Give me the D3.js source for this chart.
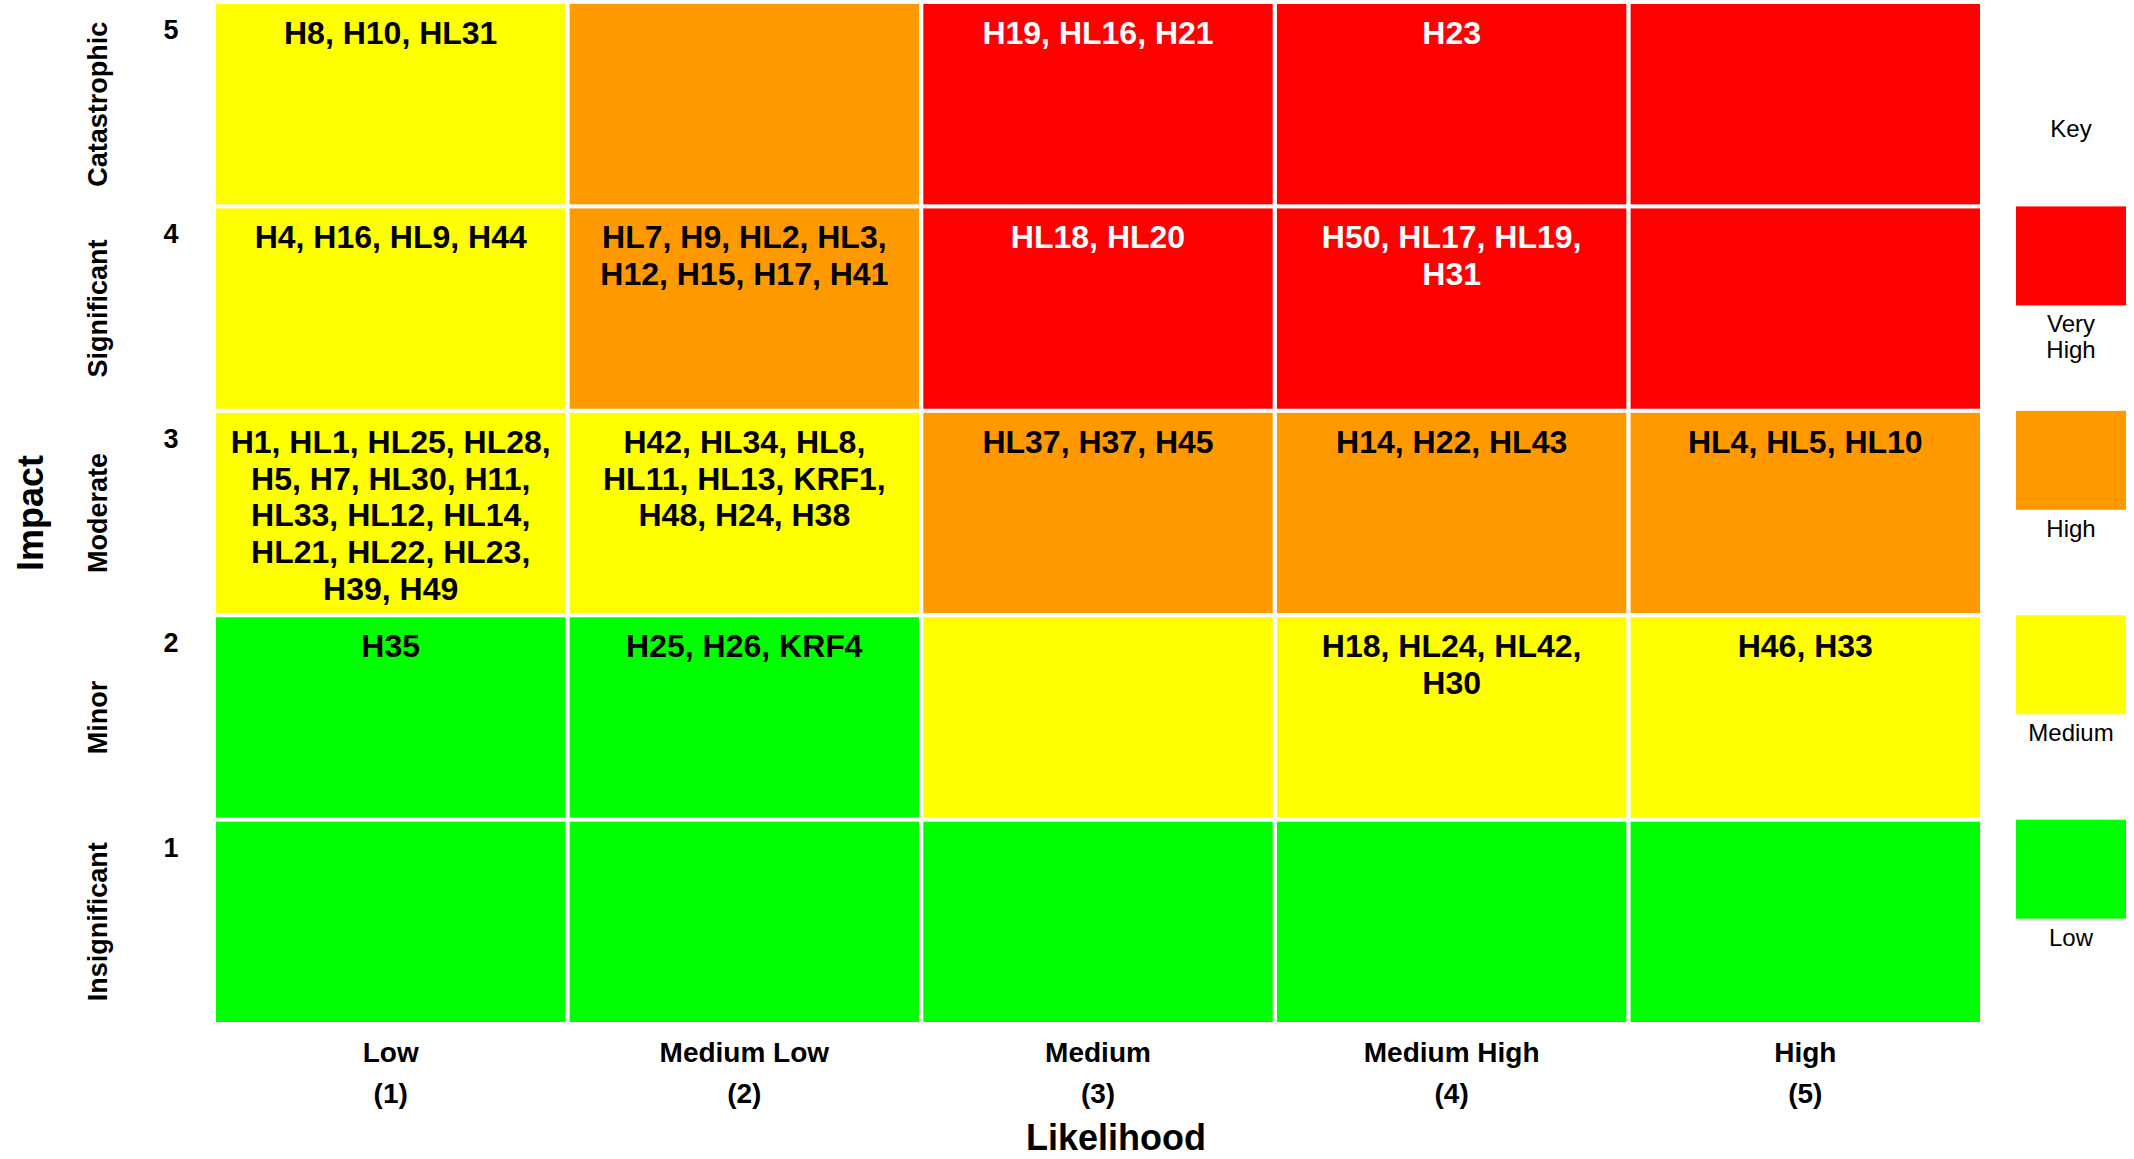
<!DOCTYPE html>
<html>
<head>
<meta charset="utf-8">
<script src="https://cdn.jsdelivr.net/npm/d3@7"></script>
<style>
  body { margin: 0; background: #fff; }
  text { font-family: "Liberation Sans", Arial, Helvetica, sans-serif; }
</style>
</head>
<body>
<div id="chart"></div>
<script>
// likelihood columns (1..5) and impact rows (5..1)
const likelihoodLevels = [1, 2, 3, 4, 5];
const likelihoodNames = ['Low', 'Medium Low', 'Medium', 'Medium High', 'High'];
const impactLevels = [5, 4, 3, 2, 1];
const impactNames = ['Catastrophic', 'Significant', 'Moderate', 'Minor', 'Insignificant'];

// risk rating per cell, rows = impact 5..1, cols = likelihood 1..5
const ratingRows = [
  ['Medium', 'High', 'Very High', 'Very High', 'Very High'],
  ['Medium', 'High', 'Very High', 'Very High', 'Very High'],
  ['Medium', 'Medium', 'High', 'High', 'High'],
  ['Low', 'Low', 'Medium', 'Medium', 'Medium'],
  ['Low', 'Low', 'Low', 'Low', 'Low']
];

// hazard ids per cell, lines split with |
const hazardRows = [
  ['H8, H10, HL31', '', 'H19, HL16, H21', 'H23', ''],
  ['H4, H16, HL9, H44', 'HL7, H9, HL2, HL3,|H12, H15, H17, H41', 'HL18, HL20', 'H50, HL17, HL19,|H31', ''],
  ['H1, HL1, HL25, HL28,|H5, H7, HL30, H11,|HL33, HL12, HL14,|HL21, HL22, HL23,|H39, H49',
   'H42, HL34, HL8,|HL11, HL13, KRF1,|H48, H24, H38', 'HL37, H37, H45', 'H14, H22, HL43', 'HL4, HL5, HL10'],
  ['H35', 'H25, H26, KRF4', '', 'H18, HL24, HL42,|H30', 'H46, H33'],
  ['', '', '', '', '']
];

const keyNames = ['Very High', 'High', 'Medium', 'Low'];
const keyColors = ['#ff0000', '#ff9900', '#ffff00', '#00ff00'];

const width = 2134, height = 1159;
const grid = {left: 216, right: 1980, top: 4, bottom: 1022};

const color = d3.scaleOrdinal().domain(keyNames).range(keyColors);

const x = d3.scaleBand()
  .domain(likelihoodLevels)
  .range([grid.left, grid.right])
  .paddingInner(0.012);

const y = d3.scaleBand()
  .domain(impactLevels)
  .range([grid.top, grid.bottom])
  .paddingInner(0.02);

const svg = d3.select('#chart').append('svg')
  .attr('width', width)
  .attr('height', height);

// flatten cells
const cells = [];
impactLevels.forEach((imp, r) => {
  likelihoodLevels.forEach((lik, c) => {
    cells.push({impact: imp, likelihood: lik, rating: ratingRows[r][c], text: hazardRows[r][c]});
  });
});

svg.append('g').selectAll('rect')
  .data(cells)
  .join('rect')
    .attr('x', d => x(d.likelihood))
    .attr('y', d => y(d.impact))
    .attr('width', x.bandwidth())
    .attr('height', y.bandwidth())
    .attr('fill', d => color(d.rating));

// cell labels
const cellText = svg.append('g').selectAll('text')
  .data(cells.filter(d => d.text !== ''))
  .join('text')
    .attr('text-anchor', 'middle')
    .attr('font-size', 32)
    .attr('font-weight', 'bold')
    .attr('fill', d => d.rating === 'Very High' ? '#fff' : '#000');

cellText.selectAll('tspan')
  .data(d => d.text.split('|').map((t, i) => ({t, i, d})))
  .join('tspan')
    .attr('x', p => x(p.d.likelihood) + x.bandwidth() / 2)
    .attr('y', p => y(p.d.impact) + 40 + p.i * 36.7)
    .text(p => p.t);

// impact numbers and names
svg.append('g').selectAll('text')
  .data(impactLevels)
  .join('text')
    .attr('x', 171)
    .attr('y', d => y(d) + 35)
    .attr('text-anchor', 'middle')
    .attr('font-size', 27)
    .attr('font-weight', 'bold')
    .text(d => d);

svg.append('g').selectAll('text')
  .data(impactLevels)
  .join('text')
    .attr('transform', (d, i) => `translate(107,${y(d) + y.bandwidth() / 2}) rotate(-90)`)
    .attr('text-anchor', 'middle')
    .attr('font-size', 27)
    .attr('font-weight', 'bold')
    .text((d, i) => impactNames[i]);

svg.append('text')
  .attr('transform', `translate(43,${(grid.top + grid.bottom) / 2}) rotate(-90)`)
  .attr('text-anchor', 'middle')
  .attr('font-size', 36)
  .attr('font-weight', 'bold')
  .text('Impact');

// likelihood labels
const xl = svg.append('g').selectAll('text')
  .data(likelihoodLevels)
  .join('text')
    .attr('text-anchor', 'middle')
    .attr('font-size', 28)
    .attr('font-weight', 'bold');
xl.append('tspan')
  .attr('x', d => x(d) + x.bandwidth() / 2)
  .attr('y', 1062)
  .text((d, i) => likelihoodNames[i]);
xl.append('tspan')
  .attr('x', d => x(d) + x.bandwidth() / 2)
  .attr('y', 1103)
  .text(d => `(${d})`);

svg.append('text')
  .attr('x', 1116)
  .attr('y', 1150)
  .attr('text-anchor', 'middle')
  .attr('font-size', 36)
  .attr('font-weight', 'bold')
  .text('Likelihood');

// key
const keyX = 2016, keyW = 110, keyH = 99;
svg.append('text')
  .attr('x', keyX + keyW / 2)
  .attr('y', 137)
  .attr('text-anchor', 'middle')
  .attr('font-size', 24)
  .text('Key');

const key = svg.append('g').selectAll('g')
  .data(keyNames)
  .join('g')
    .attr('transform', (d, i) => `translate(${keyX},${y(impactLevels[i + 1]) - 2})`);
key.append('rect')
  .attr('width', keyW)
  .attr('height', keyH)
  .attr('fill', d => color(d));
key.append('text')
  .attr('text-anchor', 'middle')
  .attr('font-size', 24)
  .selectAll('tspan')
  .data(d => d.split(' '))
  .join('tspan')
    .attr('x', keyW / 2)
    .attr('y', (t, i) => keyH + 27 + i * 26)
    .text(t => t);
</script>
</body>
</html>
